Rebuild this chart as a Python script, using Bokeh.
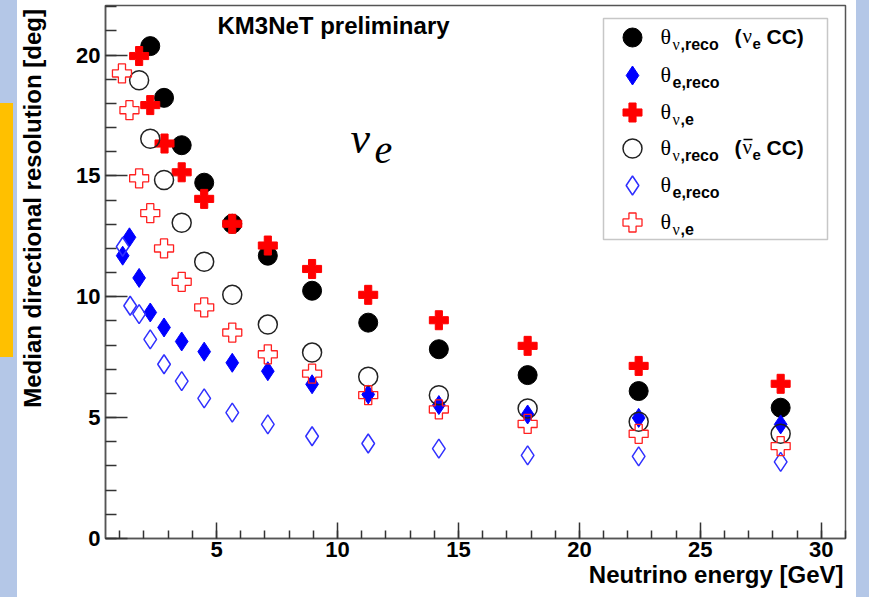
import math
from bokeh.plotting import figure
from bokeh.models import Range1d, SingleIntervalTicker, Label, BoxAnnotation, Div, Title
from bokeh.layouts import row
from bokeh.embed import file_html
from bokeh.resources import INLINE

# ---------------- data ----------------
# nu_e CC
E_nu_reco_nue = [2.26, 2.83, 3.56, 4.49, 5.65, 7.12, 8.95, 11.27, 14.19, 17.86, 22.45, 28.32]
R_nu_reco_nue = [20.37, 18.23, 16.27, 14.72, 13.02, 11.70, 10.25, 8.93, 7.83, 6.76, 6.10, 5.41]

E_e_reco_nue = [1.12, 1.40, 1.80, 2.26, 2.83, 3.56, 4.49, 5.65, 7.12, 8.95, 11.27, 14.19, 17.86, 22.45, 28.32]
R_e_reco_nue = [11.70, 12.46, 10.78, 9.35, 8.73, 8.15, 7.73, 7.27, 6.92, 6.38, 5.96, 5.52, 5.13, 4.99, 4.72]

E_nu_e_nue = [1.80, 2.26, 2.85, 3.56, 4.49, 5.65, 7.12, 8.95, 11.27, 14.19, 17.86, 22.45, 28.32]
R_nu_e_nue = [19.96, 17.93, 16.34, 15.15, 14.05, 13.02, 12.12, 11.15, 10.08, 9.03, 7.97, 7.14, 6.40]

# anti-nu_e CC
E_nu_reco_anue = [1.80, 2.26, 2.83, 3.56, 4.49, 5.65, 7.12, 8.95, 11.27, 14.19, 17.86, 22.45, 28.32]
R_nu_reco_anue = [18.96, 16.54, 14.83, 13.06, 11.45, 10.08, 8.85, 7.69, 6.69, 5.93, 5.38, 4.83, 4.33]

E_e_reco_anue = [1.12, 1.43, 1.80, 2.26, 2.83, 3.56, 4.49, 5.65, 7.12, 8.95, 11.27, 14.19, 17.86, 22.45, 28.32]
R_e_reco_anue = [12.07, 9.63, 9.28, 8.24, 7.21, 6.51, 5.80, 5.21, 4.72, 4.23, 3.93, 3.72, 3.44, 3.40, 3.17]

E_nu_e_anue = [1.09, 1.40, 1.80, 2.26, 2.83, 3.56, 4.49, 5.65, 7.12, 8.95, 11.27, 14.19, 17.86, 22.45, 28.32]
R_nu_e_anue = [19.24, 17.72, 14.90, 13.46, 12.00, 10.62, 9.56, 8.52, 7.62, 6.82, 5.93, 5.34, 4.74, 4.33, 3.82]

X_TITLE = "Neutrino energy [GeV]"
Y_TITLE = "Median directional resolution [deg]"
HEADER = "KM3NeT preliminary"

# ---------------- layout / style ----------------
W, H = 869, 597
LSTRIP, RSTRIP = 17, 13           # slide background strips
YTW = 30                          # width of the y-title panel
MX0 = LSTRIP + YTW                # page x where the main figure starts
PW = W - RSTRIP - MX0             # main figure width
# frame edges in page pixels
FL, FR, FT, FB = 105, 845, 5, 538
X0, X1 = 0.41, 31.0
Y0, Y1 = 0.0, 22.05

BLUE_BG = "#B4C7E7"
ORANGE = "#FFC000"
SANS = "Liberation Sans"
SERIF = "Liberation Serif"


def dx(px):
    return X0 + (px - FL) * (X1 - X0) / (FR - FL)


def dy(py):
    return Y1 - (py - FT) * (Y1 - Y0) / (FB - FT)


p = figure(width=PW, height=H, x_range=Range1d(X0, X1), y_range=Range1d(Y0, Y1),
           output_backend="svg", toolbar_location=None,
           min_border_left=FL - MX0, min_border_right=(W - RSTRIP) - FR,
           min_border_top=FT, min_border_bottom=H - FB)
p.title.visible = False
p.xgrid.visible = False
p.ygrid.visible = False
p.background_fill_color = "white"
p.border_fill_color = "white"
p.outline_line_color = "#555555"
p.outline_line_width = 1.5

for ax, tin in ((p.xaxis[0], 16), (p.yaxis[0], 22)):
    ax.ticker = SingleIntervalTicker(interval=5, num_minor_ticks=5)
    ax.major_tick_in = tin
    ax.major_tick_out = 0
    ax.minor_tick_in = tin // 2
    ax.minor_tick_out = 0
    ax.axis_line_color = "#555555"
    ax.axis_line_width = 1.5
    ax.major_tick_line_color = "#333333"
    ax.major_tick_line_width = 1.5
    ax.minor_tick_line_color = "#333333"
    ax.minor_tick_line_width = 1.5
    ax.major_label_text_font = SANS
    ax.major_label_text_font_style = "bold"
    ax.major_label_text_font_size = "22px"
    ax.major_label_text_color = "black"
p.xaxis.major_label_standoff = 3
p.yaxis.major_label_standoff = 5

# x-axis title, right-aligned under the axis
p.add_layout(Title(text=X_TITLE, align="right", vertical_align="middle", offset=2, standoff=0,
                   text_font=SANS, text_font_style="bold", text_font_size="24px",
                   text_color="black"), "below")

# ---------------- series ----------------
SZ = 19
styles = [
    (E_nu_reco_nue, R_nu_reco_nue, dict(marker="circle", fill_color="black", line_color="black", line_width=1)),
    (E_e_reco_nue, R_e_reco_nue, dict(marker="diamond", fill_color="blue", line_color="blue", line_width=1)),
    (E_nu_e_nue, R_nu_e_nue, dict(marker="plus", fill_color="red", line_color="red", line_width=1)),
    (E_nu_reco_anue, R_nu_reco_anue, dict(marker="circle", fill_color=None, line_color="#222222", line_width=1.5)),
    (E_e_reco_anue, R_e_reco_anue, dict(marker="diamond", fill_color=None, line_color="#3030ff", line_width=1.5)),
    (E_nu_e_anue, R_nu_e_anue, dict(marker="plus", fill_color=None, line_color="#ff2020", line_width=1.3)),
]
for xs, ys, st in styles:
    p.scatter(xs, ys, size=SZ, **st)


def txt(px, py, s, size, font=SANS, style="bold", align="left"):
    p.add_layout(Label(x=dx(px), y=dy(py), text=s, text_font=font,
                       text_font_size=f"{size}px", text_font_style=style,
                       text_align=align, text_baseline="middle",
                       text_color="black"))


# ---------------- legend (manual, to allow sub-scripts) ----------------
p.add_layout(BoxAnnotation(left=dx(603), right=dx(827), top=dy(18), bottom=dy(239),
                           fill_color="white", fill_alpha=1.0, level="underlay",
                           line_color="#444444", line_width=1.5))
rows = [37, 75, 112, 148, 185, 222]
subs = [("ν", ",reco"), ("", "e,reco"), ("ν", ",e"), ("ν", ",reco"), ("", "e,reco"), ("ν", ",e")]
for (xs, ys, st), ry, (nu, rest) in zip(styles, rows, subs):
    p.scatter([dx(632)], [dy(ry)], size=SZ, **st)
    txt(660, ry - 1.5, "θ", 22, font=SERIF, style="normal")
    sx = 672
    if nu:
        txt(sx, ry + 6.5, nu, 16, font=SERIF, style="normal")
        sx += 8
    txt(sx, ry + 6.5, rest, 16)
for k, ry in enumerate((rows[0], rows[3])):
    txt(734, ry - 1.5, "(", 21)
    txt(742, ry - 1.5, "ν", 21, font=SERIF, style="normal")
    txt(752, ry + 6, "e", 15)
    txt(766, ry - 1.5, "CC)", 21)
    if k == 1:
        p.line([dx(743), dx(752)], [dy(ry - 9), dy(ry - 9)], line_color="black", line_width=1.5)

# ---------------- texts ----------------
txt(217, 24.5, HEADER, 24)
txt(350, 138, "ν", 44, font=SERIF, style="italic")
txt(374, 149, "e", 40, font=SERIF, style="italic")

# ---------------- y-axis title panel ----------------
yt = figure(width=YTW, height=H, x_range=Range1d(0, YTW), y_range=Range1d(0, H),
            output_backend="svg", toolbar_location=None, min_border=0,
            x_axis_location=None, y_axis_location=None)
yt.title.visible = False
yt.xgrid.visible = False
yt.ygrid.visible = False
yt.outline_line_color = None
yt.background_fill_color = "white"
yt.border_fill_color = "white"
yt.add_layout(Label(x=32 - LSTRIP, y=H - 4, text=Y_TITLE, angle=math.pi / 2,
                    text_align="right", text_baseline="middle", text_font=SANS,
                    text_font_style="bold", text_font_size="24px", text_color="black"))

left = Div(width=LSTRIP, height=H, styles={"background-color": BLUE_BG, "margin": "0", "padding": "0"},
           text='<div style="margin-top:103px;width:13px;height:254px;background-color:#FFC000;"></div>')
right = Div(width=RSTRIP, height=H, styles={"background-color": BLUE_BG, "margin": "0", "padding": "0"}, text="")
layout = row(left, yt, p, right, spacing=0)

open("out.html", "w").write(file_html(layout, INLINE))
